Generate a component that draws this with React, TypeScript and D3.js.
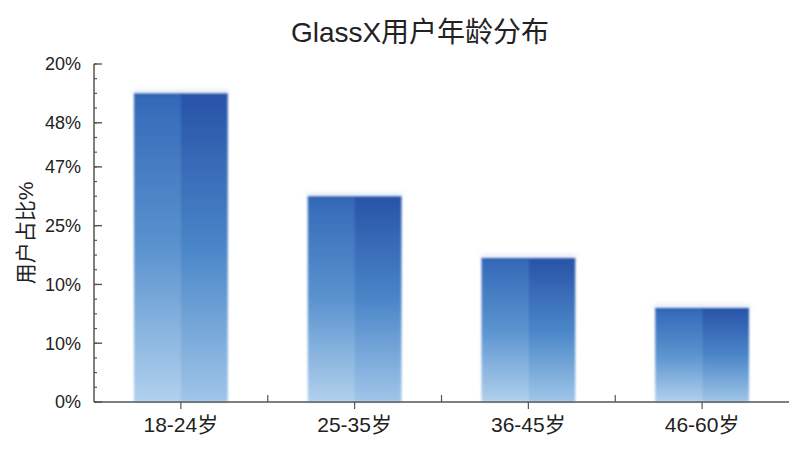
import * as d3 from "d3";
import { useRef, useEffect } from "react";

// chart data
const categories = ["18-24岁", "25-35岁", "36-45岁", "46-60岁"];
// bar heights in axis steps (the y axis has 23 evenly spaced minor ticks)
const values = [21.0, 14.0, 9.8, 6.4];
const yTickSteps = [0, 4, 8, 12, 16, 19, 23];
const yTickLabels = ["0%", "10%", "10%", "25%", "47%", "48%", "20%"];
const yMax = 23;

const W = 800;
const H = 450;
const margin = { top: 64, right: 11, bottom: 48, left: 94 };
const FONT = "'Liberation Sans', Arial, 'Noto Sans CJK SC', sans-serif";

function App() {
  const ref = useRef<SVGSVGElement>(null);

  useEffect(() => {
    draw();
  }, []);

  const draw = () => {
    const svg = d3.select(ref.current);
    svg.selectAll("*").remove();

    const innerW = W - margin.left - margin.right;
    const innerH = H - margin.top - margin.bottom;

    const x = d3
      .scaleBand()
      .domain(categories)
      .range([margin.left, margin.left + innerW])
      .paddingInner(0.46)
      .paddingOuter(0.23);

    const y = d3
      .scaleLinear()
      .domain([0, yMax])
      .range([margin.top + innerH, margin.top]);

    const defs = svg.append("defs");
    // left (lighter) and right (darker) halves of each bar
    const addGrad = (id: string, stops: string[]) => {
      const g = defs
        .append("linearGradient")
        .attr("id", id)
        .attr("x1", 0)
        .attr("y1", 0)
        .attr("x2", 0)
        .attr("y2", 1);
      stops.forEach((c, i) =>
        g
          .append("stop")
          .attr("offset", `${(i / (stops.length - 1)) * 100}%`)
          .attr("stop-color", c)
      );
    };
    addGrad("gradL", ["#3468b8", "#5b93cf", "#b1d1ed"]);
    addGrad("gradR", ["#2853a8", "#4a86c8", "#a0c6e8"]);

    defs
      .append("filter")
      .attr("id", "soft")
      .attr("x", "-10%")
      .attr("y", "-10%")
      .attr("width", "120%")
      .attr("height", "120%")
      .append("feGaussianBlur")
      .attr("stdDeviation", 0.9);

    defs
      .append("filter")
      .attr("id", "glow")
      .attr("x", "-20%")
      .attr("y", "-200%")
      .attr("width", "140%")
      .attr("height", "500%")
      .append("feGaussianBlur")
      .attr("stdDeviation", 2.2);

    // bars
    const bars = svg
      .append("g")
      .selectAll("g")
      .data(values)
      .join("g")
      .attr("filter", "url(#soft)");

    bars
      .append("rect")
      .attr("x", (d, i) => x(categories[i])! - 1)
      .attr("y", (d) => y(d) - 3)
      .attr("width", x.bandwidth() + 2)
      .attr("height", 4)
      .attr("fill", "#8fb0dc")
      .attr("opacity", 0.3)
      .attr("filter", "url(#glow)");

    bars
      .append("rect")
      .attr("x", (d, i) => x(categories[i])!)
      .attr("y", (d) => y(d))
      .attr("width", x.bandwidth() / 2 + 0.5)
      .attr("height", (d) => y(0) - y(d))
      .attr("fill", "url(#gradL)");

    bars
      .append("rect")
      .attr("x", (d, i) => x(categories[i])! + x.bandwidth() / 2)
      .attr("y", (d) => y(d))
      .attr("width", x.bandwidth() / 2)
      .attr("height", (d) => y(0) - y(d))
      .attr("fill", "url(#gradR)");

    // darker top rim
    bars
      .append("rect")
      .attr("x", (d, i) => x(categories[i])!)
      .attr("y", (d) => y(d))
      .attr("width", x.bandwidth())
      .attr("height", 3)
      .attr("fill", "#2656ac")
      .attr("opacity", 0.35);

    const axisColor = "#555";

    // y axis
    const yAxisG = svg.append("g");
    yAxisG
      .append("line")
      .attr("x1", margin.left)
      .attr("x2", margin.left)
      .attr("y1", y(yMax))
      .attr("y2", y(0))
      .attr("stroke", axisColor)
      .attr("stroke-width", 1.5);
    yAxisG
      .selectAll(".minor")
      .data(d3.range(0, yMax + 1))
      .join("line")
      .attr("x1", margin.left)
      .attr("x2", margin.left + 3)
      .attr("y1", (d) => y(d))
      .attr("y2", (d) => y(d))
      .attr("stroke", axisColor)
      .attr("stroke-width", 1.2);
    yAxisG
      .selectAll(".major")
      .data(yTickSteps)
      .join("line")
      .attr("x1", margin.left)
      .attr("x2", margin.left + 8)
      .attr("y1", (d) => y(d))
      .attr("y2", (d) => y(d))
      .attr("stroke", axisColor)
      .attr("stroke-width", 1.4);
    yAxisG
      .selectAll("text")
      .data(yTickSteps)
      .join("text")
      .attr("x", margin.left - 13)
      .attr("y", (d) => y(d))
      .attr("dy", "0.35em")
      .attr("text-anchor", "end")
      .attr("font-family", FONT)
      .attr("font-size", 18)
      .attr("fill", "#222")
      .text((d, i) => yTickLabels[i]);

    // x axis
    const xAxisG = svg.append("g");
    const base = y(0);
    xAxisG
      .append("line")
      .attr("x1", margin.left)
      .attr("x2", W - margin.right)
      .attr("y1", base)
      .attr("y2", base)
      .attr("stroke", axisColor)
      .attr("stroke-width", 1.5);
    xAxisG
      .selectAll(".ctick")
      .data(categories)
      .join("line")
      .attr("x1", (d) => x(d)! + x.bandwidth() / 2)
      .attr("x2", (d) => x(d)! + x.bandwidth() / 2)
      .attr("y1", base)
      .attr("y2", base + 7)
      .attr("stroke", axisColor)
      .attr("stroke-width", 1.2);
    xAxisG
      .selectAll(".btick")
      .data(categories.slice(1))
      .join("line")
      .attr("x1", (d) => x(d)! - (x.step() - x.bandwidth()) / 2)
      .attr("x2", (d) => x(d)! - (x.step() - x.bandwidth()) / 2)
      .attr("y1", base)
      .attr("y2", base - 7)
      .attr("stroke", axisColor)
      .attr("stroke-width", 1.2);
    xAxisG
      .selectAll("text")
      .data(categories)
      .join("text")
      .attr("x", (d) => x(d)! + x.bandwidth() / 2)
      .attr("y", base + 30)
      .attr("text-anchor", "middle")
      .attr("font-family", FONT)
      .attr("font-size", 21)
      .attr("fill", "#222")
      .text((d) => d);

    // y axis title
    svg
      .append("text")
      .attr("transform", `translate(33, ${margin.top + innerH / 2}) rotate(-90)`)
      .attr("text-anchor", "middle")
      .attr("font-family", FONT)
      .attr("font-size", 21)
      .attr("fill", "#222")
      .text("用户占比%");

    // chart heading
    svg
      .append("text")
      .attr("x", 420)
      .attr("y", 42)
      .attr("text-anchor", "middle")
      .attr("font-family", FONT)
      .attr("font-size", 28)
      .attr("fill", "#222")
      .text("GlassX用户年龄分布");
  };

  return (
    <svg
      ref={ref}
      width={W}
      height={H}
      style={{ position: "absolute", left: 0, top: 0, background: "#fff" }}
    ></svg>
  );
}

export default App;
